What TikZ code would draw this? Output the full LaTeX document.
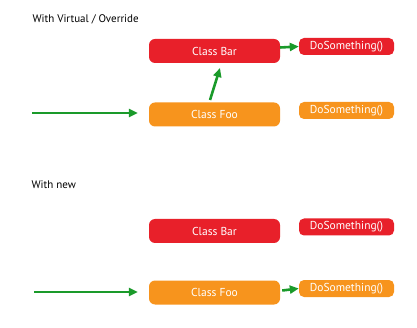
\documentclass[tikz,border=0pt]{standalone}
\usepackage{fontspec}
\setmainfont{PT Sans}
\usetikzlibrary{arrows.meta}
\definecolor{cred}{HTML}{E8202A}
\definecolor{corange}{HTML}{F7941D}
\definecolor{cgreen}{HTML}{1A9A2A}
\begin{document}
\begin{tikzpicture}[x=1pt,y=-1pt,
  classbox/.style={rounded corners=6pt,minimum width=131pt,minimum height=24pt,inner sep=0pt,text=white,font=\fontsize{11.5}{13}\selectfont},
  methbox/.style={rounded corners=5pt,minimum width=95pt,minimum height=17pt,inner sep=0pt,text=white,font=\fontsize{11.5}{13}\selectfont},
  garrow/.style={cgreen,line width=2.6pt,-{Triangle[length=9pt,width=8pt]}},
  title/.style={anchor=west,font=\fontsize{11}{13}\selectfont}]
\useasboundingbox (0,0) rectangle (417,328);
% top section
\node[title] (t1) at (29,19) {With Virtual / Override};
\node[classbox,fill=cred] (bar1) at (214.5,51) {Class Bar};
\node[methbox,fill=cred] (ds1r) at (346.5,46.5) {DoSomething()};
\node[classbox,fill=corange] (foo1) at (214.5,114.5) {Class Foo};
\node[methbox,fill=corange] (ds1o) at (346.5,110.5) {DoSomething()};
\coordinate (in1) at (32,113);
\draw[garrow,shorten >=11pt] (in1) -- (in1 -| foo1.west);
\draw[garrow] (210,100) -- (220,68);
\draw[garrow] (bar1.east |- ds1r.west) ++(0,1) -- (ds1r.west);
% bottom section
\node[title] (t2) at (28,185) {With new};
\node[classbox,fill=cred] (bar2) at (214.5,231) {Class Bar};
\node[methbox,fill=cred] (ds2r) at (346.5,227) {DoSomething()};
\node[classbox,fill=corange] (foo2) at (214.5,292.5) {Class Foo};
\node[methbox,fill=corange] (ds2o) at (346.5,288.5) {DoSomething()};
\coordinate (in2) at (34,292);
\draw[garrow,shorten >=11pt] (in2) -- (in2 -| foo2.west);
\draw[garrow] (foo2.east |- ds2o.west) ++(2,2) -- (ds2o.west);
\end{tikzpicture}
\end{document}
